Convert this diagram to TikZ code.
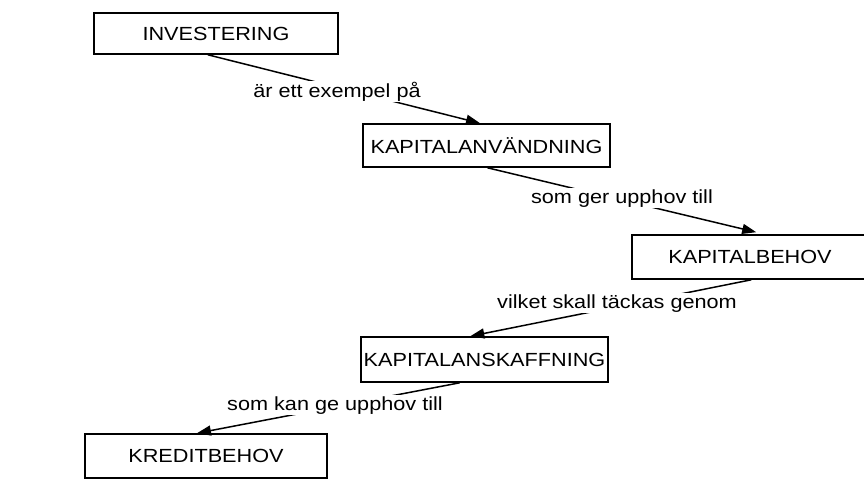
\documentclass[tikz,border=0pt]{standalone}
\usepackage{fontspec}
\setmainfont[FakeStretch=1.14]{Liberation Sans}
\usetikzlibrary{arrows.meta,calc}
\begin{document}
\begin{tikzpicture}[x=1pt,y=-1pt,
  box/.style={draw,line width=1.6pt,inner sep=0pt,font=\fontsize{19}{22}\selectfont},
  lbl/.style={fill=white,inner sep=1pt,anchor=base,font=\fontsize{19}{22}\selectfont},
  conn/.style={line width=1.5pt,-{Triangle[length=14pt,width=10pt]}}]
\useasboundingbox (0,0) rectangle (864,490);
\clip (0,0) rectangle (864,490);
\fill[white] (0,0) rectangle (864,490);
% boxes
\node[box,minimum width=244pt,minimum height=41pt] (inv) at (216,33.5) {INVESTERING};
\node[box,minimum width=247pt,minimum height=43pt] (kan) at (486.5,145.5) {KAPITALANVÄNDNING};
\node[box,minimum width=246pt,minimum height=44pt] (kb) at (755,257) {\hspace*{-10pt}KAPITALBEHOV};
\node[box,minimum width=247pt,minimum height=45pt] (kas) at (484.5,359.5) {KAPITALANSKAFFNING};
\node[box,minimum width=242pt,minimum height=44pt] (kre) at (206,456) {KREDITBEHOV};
% connector end points on borders
\coordinate (s1) at ($(inv.south west)!0.467!(inv.south east)$);
\coordinate (e1) at ($(kan.north west)!0.474!(kan.north east)$);
\coordinate (s2) at ($(kan.south west)!0.504!(kan.south east)$);
\coordinate (e2) at ($(kb.north west)+(125,-2)$);
\coordinate (s3) at ($(kb.south west)+(120,0)$);
\coordinate (e3) at ($(kas.north west)!0.443!(kas.north east)$);
\coordinate (s4) at ($(kas.south west)!0.40!(kas.south east)$);
\coordinate (e4) at ($(kre.north west)!0.463!(kre.north east)$);
% connectors
\draw[conn] (s1) -- (e1);
\draw[conn] (s2) -- (e2);
\draw[conn] (s3) -- (e3);
\draw[conn] (s4) -- (e4);
% labels
\node[lbl] (l1) at (337,97) {är ett exempel på};
\node[lbl] (l2) at (622,203) {som ger upphov till};
\node[lbl] (l3) at (617,308) {vilket skall täckas genom};
\node[lbl] (l4) at (335,410) {som kan ge upphov till};
\end{tikzpicture}
\end{document}
